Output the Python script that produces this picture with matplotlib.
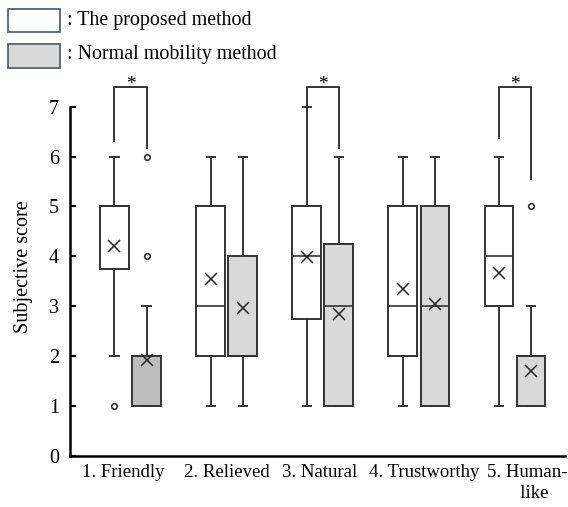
import matplotlib
matplotlib.use("Agg")
import matplotlib.pyplot as plt
from matplotlib.patches import Rectangle

plt.rcParams['font.family'] = ['Liberation Serif', 'DejaVu Serif']

# categories
categories = ['1. Friendly', '2. Relieved', '3. Natural', '4. Trustworthy', '5. Human-\n   like']

# proposed method (white boxes)
prop_q1 = [3.75, 2, 2.75, 2, 3]
prop_med = [5, 3, 4, 3, 4]
prop_q3 = [5, 5, 5, 5, 5]
prop_lo = [2, 1, 1, 1, 1]
prop_hi = [6, 6, 7, 6, 6]
prop_mean = [4.2, 3.55, 3.98, 3.35, 3.66]
prop_fliers = [[1], [], [], [], []]

# normal mobility method (gray boxes)
norm_q1 = [1, 2, 1, 1, 1]
norm_med = [2, 2, 3, 3, 2]
norm_q3 = [2, 4, 4.25, 5, 2]
norm_lo = [1, 1, 1, 1, 1]
norm_hi = [3, 6, 6, 6, 3]
norm_mean = [1.93, 2.97, 2.85, 3.05, 1.7]
norm_fliers = [[4, 6], [], [], [], [5]]
norm_colors = ['#bdbdbd', '#d9d9d9', '#d9d9d9', '#d9d9d9', '#d9d9d9']

# significance brackets: (group, left start, right start, top)
sig_groups = [1, 3, 5]
sig_left = [6.32, 6.98, 6.37]
sig_right = [6.18, 6.18, 5.55]
sig_top = [7.39, 7.39, 7.39]

offset = 0.167
width = 0.30
# label positions are a little off the group centres in the original
label_pos = [0.92, 2.0, 2.97, 4.05, 5.13]

fig = plt.figure(figsize=(5.68, 5.07), dpi=100)
ax = fig.add_axes([0.1232, 0.1006, 0.8715, 0.748])

def make_stats(q1, med, q3, lo, hi, mean, fl):
    return [dict(q1=a, med=b, q3=c, whislo=d, whishi=e, mean=f, fliers=g)
            for a, b, c, d, e, f, g in zip(q1, med, q3, lo, hi, mean, fl)]

pos = list(range(1, len(categories) + 1))
edge = '#333333'
common = dict(widths=width, showmeans=True, patch_artist=True, capwidths=0.085,
              boxprops=dict(edgecolor=edge, linewidth=1.4),
              whiskerprops=dict(color=edge, linewidth=1.4),
              capprops=dict(color=edge, linewidth=1.4),
              medianprops=dict(color=edge, linewidth=1.2),
              meanprops=dict(marker='x', markeredgecolor='#222222', markersize=8, markeredgewidth=1.1),
              flierprops=dict(marker='o', markerfacecolor='white', markeredgecolor=edge,
                              markersize=4, markeredgewidth=1.2))

b1 = ax.bxp(make_stats(prop_q1, prop_med, prop_q3, prop_lo, prop_hi, prop_mean, prop_fliers),
            positions=[p - offset for p in pos], manage_ticks=False, **common)
b2 = ax.bxp(make_stats(norm_q1, norm_med, norm_q3, norm_lo, norm_hi, norm_mean, norm_fliers),
            positions=[p + offset for p in pos], manage_ticks=False, **common)
for box in b1['boxes']:
    box.set_facecolor('white')
for box, c in zip(b2['boxes'], norm_colors):
    box.set_facecolor(c)

# significance brackets
for g, l, r, t in zip(sig_groups, sig_left, sig_right, sig_top):
    ax.plot([g - offset, g - offset, g + offset, g + offset], [l, t, t, r],
            color=edge, linewidth=1.4, clip_on=False)
    ax.text(g, t - 0.12, '*', ha='center', va='bottom', fontsize=14, clip_on=False)

ax.set_xlim(0.37, 5.52)
ax.set_ylim(0, 7.6)
ax.set_yticks(range(0, 8))
ax.spines['left'].set_bounds(0, 7)
ax.spines['top'].set_visible(False)
ax.spines['right'].set_visible(False)
ax.spines['left'].set_linewidth(1.8)
ax.spines['bottom'].set_linewidth(1.8)
ax.tick_params(axis='y', direction='in', length=4, width=1.5, labelsize=14.5, pad=8)
ax.set_xticks(label_pos)
ax.set_xticklabels(categories, fontsize=13.5, linespacing=1.3)
ax.tick_params(axis='x', length=0, pad=6)
ax.set_ylabel('Subjective score', fontsize=14.5, labelpad=11)

# legend drawn by hand
fig.patches.append(Rectangle((8 / 568, 1 - 32 / 507), 52 / 568, 23 / 507, transform=fig.transFigure,
                             facecolor='white', edgecolor='#4a5560', linewidth=1.2))
fig.patches.append(Rectangle((8 / 568, 1 - 68 / 507), 52 / 568, 24 / 507, transform=fig.transFigure,
                             facecolor='#d9d9d9', edgecolor='#4a5560', linewidth=1.2))
fig.text(67 / 568, 1 - 20 / 507, ': The proposed method', fontsize=14.4, va='center')
fig.text(67 / 568, 1 - 55 / 507, ': Normal mobility method', fontsize=14.4, va='center')

fig.savefig('out.png', dpi=100)
